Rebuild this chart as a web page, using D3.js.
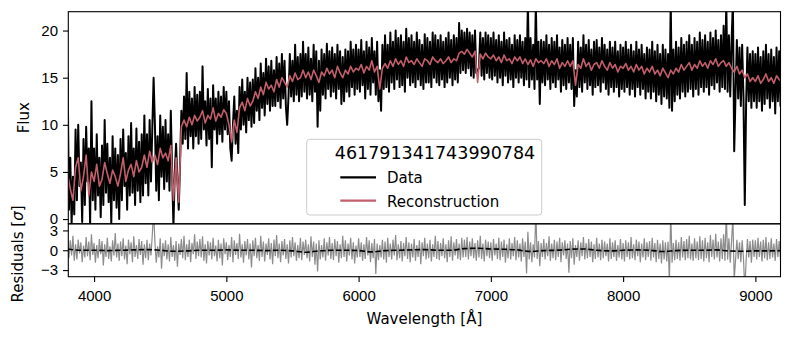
<!DOCTYPE html>
<html>
<head>
<meta charset="utf-8">
<script src="https://cdn.jsdelivr.net/npm/d3@7"></script>
<style>
  body { margin: 0; background: #fff; }
  svg { font-family: "DejaVu Sans", sans-serif; }
  .axis text { font-size: 15px; fill: #000; }
  .axis path, .axis line { stroke: #000; stroke-width: 1.1; }
</style>
</head>
<body>
<svg id="chart" width="792" height="340"></svg>
<script>
// observed flux, sampled every 10 A from 3800 A
const fluxStart = 3800;
const fluxStep = 10;
const flux = [
  15.5, 1.0, 6.5, -0.5, 4.5, 0.5, 9.5, 2.0, 10.0, 3.5, 6.0, -0.3, 8.5, 1.5, 9.8, 4.0, 7.5, -0.6, 12.5, 2.0,
  7.5, 1.0, 9.0, 2.5, 6.5, 0.2, 7.8, 1.5, 10.5, 2.8, 8.0, 1.8, 6.5, -0.5, 8.8, 2.0, 7.5, 1.2, 6.8, 0.0,
  8.5, 2.0, 9.5, 3.5, 7.0, 1.0, 8.8, 2.5, 10.2, 2.8, 7.5, 1.5, 9.6, 3.0, 8.2, 1.8, 9.0, 2.5, 11.0, 3.8,
  9.0, 2.5, 10.5, 4.0, 9.5, 15.0, 10.0, 3.0, 8.8, 2.0, 11.0, 4.5, 9.8, 3.2, 10.5, 4.0, 9.0, 3.0, 11.5, 5.0,
  -0.8, 5.0, 8.0, 4.0, 1.0, 6.0, 11.5, 8.0, 13.0, 8.5, 15.5, 7.5, 13.5, 8.8, 12.8, 7.5, 14.0, 8.8, 13.2, 8.0,
  13.5, 8.5, 16.2, 9.5, 12.5, 7.8, 13.8, 8.5, 12.8, 5.5, 14.2, 9.5, 12.8, 8.0, 13.5, 9.0, 13.0, 8.2, 14.0, 9.5,
  13.5, 9.0, 12.5, 7.5, 6.2, 10.0, 13.0, 8.0, 11.5, 7.0, 14.0, 9.5, 14.8, 10.0, 13.5, 9.2, 15.0, 10.5, 14.5, 9.8,
  14.8, 10.2, 16.0, 11.5, 15.0, 10.5, 16.5, 11.8, 15.5, 11.0, 17.0, 12.2, 16.2, 11.5, 16.8, 12.0, 15.8, 12.0, 17.2, 12.5,
  16.5, 11.8, 17.5, 12.8, 16.8, 12.0, 10.0, 13.0, 17.5, 13.0, 16.8, 12.5, 18.5, 13.2, 17.2, 12.5, 17.5, 13.0, 18.8, 13.5,
  17.5, 12.8, 18.2, 13.2, 17.0, 12.5, 18.5, 13.5, 17.8, 9.8, 16.8, 11.5, 18.0, 13.2, 17.5, 12.8, 18.6, 13.8, 17.8, 13.0,
  18.2, 13.5, 17.5, 12.8, 18.5, 13.8, 17.8, 12.2, 17.2, 12.5, 18.0, 13.5, 17.8, 13.0, 18.8, 14.0, 18.0, 13.2, 18.5, 13.8,
  18.0, 13.5, 19.0, 14.2, 17.8, 12.8, 18.8, 13.8, 18.2, 13.2, 19.2, 14.5, 17.8, 13.2, 18.8, 12.5, 15.8, 11.5, 18.5, 13.8,
  19.5, 14.0, 18.5, 13.5, 19.8, 14.5, 18.8, 13.8, 20.0, 14.8, 19.2, 14.0, 19.5, 14.2, 18.8, 13.5, 20.2, 15.0, 19.2, 14.2,
  19.5, 14.5, 18.8, 14.0, 19.8, 14.8, 19.0, 14.2, 18.5, 13.8, 19.6, 14.5, 19.2, 14.5, 18.8, 14.0, 19.8, 15.0, 19.5, 14.5,
  19.0, 14.2, 19.5, 14.8, 18.8, 14.0, 19.2, 14.5, 19.8, 15.0, 19.0, 14.2, 19.5, 14.8, 19.2, 14.5, 20.8, 15.5, 20.0, 15.8,
  19.8, 15.5, 20.2, 16.0, 19.8, 15.2, 19.5, 15.0, 20.0, 15.5, 15.8, 16.0, 19.8, 15.2, 19.2, 14.8, 19.8, 15.5, 19.5, 15.0,
  19.2, 14.8, 19.8, 15.2, 19.0, 14.5, 19.5, 15.0, 18.8, 14.2, 19.8, 15.2, 19.0, 14.5, 19.2, 14.8, 18.5, 14.0, 19.5, 15.0,
  19.0, 14.5, 19.5, 15.0, 18.8, 14.2, 19.2, 14.8, 23.0, 14.0, 19.2, 14.8, 18.5, 13.8, 23.0, 14.8, 18.8, 12.2, 19.0, 14.5,
  18.8, 14.2, 19.5, 14.8, 18.5, 13.8, 19.2, 14.5, 18.8, 14.0, 19.5, 14.8, 18.2, 13.5, 19.0, 14.2, 18.5, 13.8, 19.2, 14.5,
  18.5, 13.8, 19.2, 12.0, 15.8, 13.0, 18.8, 14.0, 18.2, 13.5, 19.5, 14.5, 18.5, 13.8, 19.0, 14.2, 18.0, 13.2, 18.8, 14.0,
  19.0, 14.2, 18.2, 13.5, 19.2, 14.5, 18.5, 13.8, 18.0, 13.2, 18.8, 14.0, 18.2, 13.5, 18.8, 14.0, 17.8, 13.0, 18.5, 13.8,
  18.2, 13.5, 18.8, 14.0, 18.0, 13.2, 18.5, 13.8, 17.8, 13.0, 18.8, 14.0, 18.0, 13.2, 18.5, 13.8, 17.5, 12.8, 18.2, 13.5,
  18.0, 12.8, 18.8, 13.5, 17.8, 12.5, 18.5, 13.2, 17.5, 12.2, 18.5, 13.0, 18.0, 12.8, 17.5, 11.8, 23.0, 11.5, 18.0, 12.5,
  18.8, 13.2, 18.2, 12.8, 19.2, 13.5, 18.5, 13.0, 18.8, 13.5, 19.5, 13.8, 18.5, 13.0, 19.2, 13.8, 18.8, 13.2, 19.8, 14.0,
  19.0, 13.5, 19.5, 14.0, 18.8, 13.2, 19.8, 14.2, 19.2, 13.8, 20.0, 14.5, 19.0, 13.5, 19.5, 14.0, 20.5, 13.8, 23.0, 13.5,
  19.5, 13.0, 18.8, 23.0, 7.2, 13.2, 19.0, 12.8, 18.2, 12.0, 18.5, 13.0, 1.5, 12.2, 18.2, 12.5, 17.5, 11.8, 17.8, 12.5,
  17.5, 11.8, 18.2, 12.5, 17.2, 11.5, 17.8, 12.2, 18.5, 12.8, 17.5, 11.8, 18.0, 12.5, 17.2, 11.2, 18.2, 12.5, 17.8, 12.0,
  17.0
];

// reconstruction, sampled every 20 A from 3800 A
const reconStart = 3800;
const reconStep = 20;
const recon = [
  4.8, 3.2, 2.0, 5.5, 6.5, 3.0, 4.5, 6.8, 2.5, 5.0,
  4.0, 5.8, 3.5, 4.2, 6.0, 4.8, 3.8, 5.2, 4.5, 3.5,
  4.8, 6.5, 4.0, 5.2, 5.8, 4.5, 6.2, 5.0, 5.5, 6.8,
  5.5, 7.2, 6.0, 6.8, 5.8, 7.5, 6.5, 7.0, 6.2, 7.8,
  2.0, 6.5, 1.8, 9.8, 10.5, 9.8, 10.8, 10.0, 11.0, 10.4,
  10.8, 11.5, 10.2, 11.0, 10.6, 11.8, 10.4, 11.2, 10.8, 11.6,
  11.2, 10.0, 8.2, 10.5, 9.2, 11.8, 12.4, 11.5, 12.8, 12.0,
  12.5, 13.5, 12.8, 14.0, 13.2, 14.5, 13.8, 14.2, 13.5, 14.8,
  14.0, 15.0, 14.5, 14.0, 15.2, 14.6, 15.5, 14.8, 15.0, 15.8,
  15.0, 15.6, 14.8, 15.8, 15.2, 14.5, 15.6, 15.2, 16.0, 15.4,
  15.8, 15.0, 16.2, 15.5, 15.0, 15.8, 15.4, 16.2, 15.6, 16.0,
  15.8, 16.4, 15.5, 16.2, 15.8, 16.8, 15.6, 16.2, 13.8, 16.0,
  16.5, 16.0, 16.8, 16.2, 17.0, 16.4, 16.8, 16.2, 17.2, 16.6,
  16.8, 16.4, 17.0, 16.6, 16.2, 17.0, 16.8, 16.4, 17.2, 16.8,
  16.6, 17.0, 16.5, 16.8, 17.2, 16.6, 17.0, 16.8, 17.6, 17.8,
  17.5, 18.0, 17.6, 17.2, 17.8, 14.5, 17.5, 17.0, 17.6, 17.2,
  17.0, 17.4, 16.8, 17.2, 16.6, 17.4, 16.8, 17.0, 16.5, 17.2,
  16.8, 17.2, 16.5, 17.0, 16.4, 16.9, 16.2, 17.0, 16.6, 16.8,
  16.5, 17.0, 16.2, 16.8, 16.4, 17.0, 16.0, 16.6, 16.2, 16.8,
  16.2, 16.8, 14.2, 16.4, 16.0, 17.0, 16.2, 16.6, 15.8, 16.4,
  16.6, 16.0, 16.8, 16.2, 15.8, 16.6, 16.0, 16.4, 15.6, 16.2,
  16.0, 16.5, 15.8, 16.2, 15.6, 16.4, 15.8, 16.2, 15.4, 16.0,
  15.6, 16.2, 15.4, 15.8, 15.2, 16.0, 15.5, 15.0, 15.8, 15.4,
  16.0, 15.6, 16.4, 15.8, 16.2, 16.6, 15.8, 16.4, 16.0, 16.8,
  16.2, 16.6, 16.0, 16.8, 16.4, 17.0, 16.2, 16.6, 16.8, 16.2,
  16.6, 16.0, 15.6, 16.2, 15.4, 15.8, 15.0, 15.4, 14.6, 15.0,
  14.6, 15.2, 14.4, 14.8, 15.4, 14.6, 15.0, 14.4, 15.2, 14.8,
  14.6
];

// residuals in sigma, same grid as flux
const resid = [
  1.8, -1.2, 1.5, -0.8, 2.2, -1.6, 0.9, -1.4, 1.6, -0.5, 1.2, -1.8, 0.7, -1.1, 2.0, -0.9, 1.3, -1.5, 2.4, -0.7,
  1.1, -1.9, 0.8, -1.2, 1.7, -0.6, 1.4, -2.3, 0.9, -1.0, 1.9, -1.3, 0.6, -1.7, 1.5, -0.8, 2.6, -1.1, 1.0, -1.6,
  1.3, -0.9, 1.8, -1.4, 0.7, -2.1, 1.6, -0.6, 1.2, -1.8, 2.1, -1.0, 0.8, -1.3, 1.7, -0.7, 1.4, -2.2, 0.9, -1.2,
  1.6, -1.5, 1.0, -0.8, 2.3, 6.0, 1.2, -1.9, 0.6, -1.1, 1.8, -2.8, 1.1, -0.9, 1.5, -1.4, 0.9, -1.7, 2.0, -1.0,
  0.8, -1.6, 1.4, -2.5, 1.0, -0.7, 1.7, -1.2, 2.2, -1.5, 0.9, -1.0, 1.6, -1.8, 1.1, -0.6, 2.4, -1.3, 1.3, -0.9,
  1.7, -1.1, 2.1, -1.6, 0.9, -2.0, 1.4, -0.8, 1.2, -1.4, 1.9, -0.9, 0.7, -1.7, 1.6, -1.2, 1.0, -2.3, 1.8, -0.6,
  1.2, -1.5, 0.8, -1.0, 2.0, -1.8, 1.5, -0.7, 1.1, -1.3, 2.5, -1.1, 0.9, -1.9, 1.4, -0.8, 1.7, -1.4, 1.0, -2.6,
  1.5, -0.9, 1.9, -1.2, 0.8, -1.6, 2.2, -1.0, 1.3, -1.7, 1.0, -0.7, 1.8, -1.4, 1.1, -2.1, 1.6, -0.9, 2.3, -1.2,
  1.0, -1.8, 1.4, -0.8, 1.7, -1.3, 0.9, -2.0, 1.5, -1.1, 2.0, -0.9, 1.2, -1.6, 0.8, -1.2, 1.9, -1.5, 1.3, -0.7,
  1.6, -1.2, 0.9, -1.7, 2.1, -1.0, 1.3, -2.2, 1.0, -3.2, 1.5, -1.4, 0.8, -1.1, 1.8, -1.6, 1.2, -0.8, 2.0, -1.3,
  1.1, -1.5, 1.7, -0.9, 1.4, -1.9, 0.9, -1.2, 2.2, -1.0, 1.5, -1.7, 1.0, -0.8, 1.9, -1.4, 1.2, -2.0, 0.7, -1.1,
  1.8, -1.0, 1.2, -1.6, 0.9, -1.3, 2.0, -0.8, 1.5, -1.8, 1.1, -1.2, 1.7, -3.6, 1.0, -1.5, 0.8, -1.1, 1.6, -1.4,
  1.3, -1.9, 1.9, -1.0, 1.0, -1.4, 1.6, -0.8, 2.3, -1.5, 0.9, -1.2, 1.4, -1.7, 1.1, -0.9, 2.0, -1.3, 1.2, -1.8,
  1.0, -1.1, 1.7, -1.6, 0.8, -1.0, 1.5, -2.1, 1.2, -0.9, 1.9, -1.4, 1.0, -1.2, 1.6, -1.7, 0.9, -1.0, 2.2, -1.3,
  1.4, -1.5, 1.1, -0.9, 1.8, -1.2, 0.9, -1.8, 1.5, -1.0, 2.1, -1.6, 1.2, -0.8, 1.7, -1.3, 1.0, -1.5, 1.9, -1.1,
  1.6, -1.0, 2.0, -1.4, 1.3, -0.9, 1.8, -1.2, 1.1, -1.6, 1.5, -1.1, 2.2, -1.3, 1.0, -1.7, 1.6, -0.9, 1.3, -1.2,
  1.2, -1.6, 1.7, -0.8, 1.0, -1.3, 1.9, -1.5, 1.3, -1.0, 1.6, -1.9, 0.9, -1.2, 1.8, -1.4, 1.1, -0.9, 2.0, -1.5,
  1.5, -1.1, 1.0, -1.7, 1.8, -1.0, 1.3, -3.5, 2.8, -1.4, 1.2, -1.8, 0.9, -1.1, 6.0, -1.3, 1.4, -2.4, 1.1, -1.0,
  1.7, -1.4, 1.1, -0.9, 2.1, -1.6, 1.0, -1.2, 1.6, -1.5, 1.3, -1.0, 1.9, -1.8, 1.2, -0.8, 1.5, -1.3, 1.0, -3.4,
  1.4, -1.2, 1.8, -2.2, 0.8, -1.0, 1.5, -1.6, 1.2, -0.9, 2.0, -1.4, 1.1, -1.2, 1.7, -1.0, 1.3, -1.8, 0.9, -1.3,
  1.9, -1.1, 1.0, -1.5, 1.6, -1.2, 1.3, -0.9, 1.0, -1.7, 1.8, -1.3, 1.2, -1.0, 1.5, -1.6, 0.8, -1.1, 1.7, -1.4,
  1.1, -1.7, 1.5, -1.0, 1.2, -1.4, 2.0, -1.2, 0.9, -1.5, 1.6, -0.9, 1.3, -1.8, 1.0, -1.1, 1.8, -1.5, 1.2, -1.0,
  1.4, -1.6, 1.9, -1.1, 1.1, -1.8, 1.6, -1.3, 1.0, -2.0, 1.5, -1.4, 1.2, -1.7, 1.3, -5.0, 6.0, -1.9, 1.1, -1.5,
  1.6, -1.3, 1.2, -1.6, 2.0, -1.1, 1.4, -1.5, 1.7, -1.2, 2.2, -1.4, 1.0, -1.6, 1.8, -1.2, 1.3, -1.5, 2.1, -1.3,
  1.5, -1.7, 1.9, -1.2, 1.2, -1.8, 2.3, -1.0, 1.6, -1.4, 2.5, -1.1, 1.3, -1.7, 1.8, -1.3, 2.4, -1.6, 6.0, -1.4,
  1.8, -1.9, 1.4, 5.0, -4.5, -1.5, 1.6, -1.3, 1.2, -1.8, 1.5, -1.2, -6.0, -1.6, 1.7, -1.1, 1.4, -1.9, 1.6, -1.0,
  1.5, -1.4, 1.9, -1.0, 1.3, -1.7, 1.6, -1.2, 2.0, -1.5, 1.2, -1.3, 1.8, -1.1, 1.0, -1.6, 1.7, -1.0, 1.4, -1.3,
  1.2
];

// smoothed residual, every 100 A from 3800 A
const smoothStart = 3800;
const smoothStep = 100;
const residSmooth = [
  0.2, 0.0, 0.0, -0.05, 0.0, 0.05, 0.1, 0.0, -0.15, -0.1,
  0.0, 0.0, 0.05, 0.0, 0.0, -0.05, 0.0, -0.1, -0.3, -0.1,
  0.0, 0.0, -0.05, -0.25, -0.05, 0.0, 0.05, 0.1, 0.0, 0.0,
  0.25, 0.3, 0.2, 0.15, 0.05, -0.2, -0.05, 0.0, 0.15, 0.2,
  0.0, -0.1, 0.0, 0.05, 0.0, -0.2, -0.05, 0.0, 0.0, 0.05,
  -0.1, -0.15, -0.1, -0.1, -0.05
];

const xTicks = [4000, 5000, 6000, 7000, 8000, 9000];
const fluxTicks = [0, 5, 10, 15, 20];
const residTicks = [-3, 0, 3];
const legendTitle = '461791341743990784';
const seriesNames = ['Data', 'Reconstruction'];
const seriesColors = ['#000000', '#c25f6a'];

const svg = d3.select('#chart');
const left = 68.3, right = 780.5;
const topY0 = 11.7, topY1 = 223.8, botY1 = 276.7;

const x = d3.scaleLinear().domain([3805, 9190]).range([left, right]);
const yFlux = d3.scaleLinear().domain([-0.5, 22]).range([topY1, topY0]);
const yRes = d3.scaleLinear().domain([-4, 4]).range([botY1, topY1]);

const grid = (start, step, arr) => arr.map((v, i) => [start + i * step, v]);

const defs = svg.append('defs');
defs.append('clipPath').attr('id', 'clipTop')
  .append('rect')
  .attr('x', left).attr('y', topY0)
  .attr('width', right - left).attr('height', topY1 - topY0);
defs.append('clipPath').attr('id', 'clipBot')
  .append('rect')
  .attr('x', left).attr('y', topY1)
  .attr('width', right - left).attr('height', botY1 - topY1);

// top panel
const lineFlux = d3.line().x(d => x(d[0])).y(d => yFlux(d[1]));
const gTop = svg.append('g').attr('clip-path', 'url(#clipTop)');
gTop.append('path')
  .datum(grid(fluxStart, fluxStep, flux))
  .attr('d', lineFlux)
  .attr('fill', 'none')
  .attr('stroke', seriesColors[0])
  .attr('stroke-width', 2)
  .attr('stroke-linejoin', 'round');
gTop.append('path')
  .datum(grid(reconStart, reconStep, recon))
  .attr('d', lineFlux)
  .attr('fill', 'none')
  .attr('stroke', seriesColors[1])
  .attr('stroke-width', 1.6)
  .attr('stroke-linejoin', 'round');

// bottom panel
const lineRes = d3.line().x(d => x(d[0])).y(d => yRes(d[1]));
const gBot = svg.append('g').attr('clip-path', 'url(#clipBot)');
gBot.append('path')
  .datum(grid(fluxStart, fluxStep, resid))
  .attr('d', lineRes)
  .attr('fill', 'none')
  .attr('stroke', '#7f7f7f')
  .attr('stroke-opacity', 0.9)
  .attr('stroke-width', 1.2);
gBot.append('path')
  .datum(grid(smoothStart, smoothStep, residSmooth))
  .attr('d', lineRes.curve(d3.curveMonotoneX))
  .attr('fill', 'none')
  .attr('stroke', '#000')
  .attr('stroke-width', 1.6)
  .attr('stroke-dasharray', '5.5,2.4');

// axes
svg.append('g')
  .attr('class', 'axis')
  .attr('transform', `translate(${left},0)`)
  .call(d3.axisLeft(yFlux).tickValues(fluxTicks).tickSize(5.3).tickPadding(5).tickSizeOuter(0))
  .call(g => g.select('.domain').remove());

svg.append('g')
  .attr('class', 'axis')
  .attr('transform', `translate(${left},0)`)
  .call(d3.axisLeft(yRes).tickValues(residTicks).tickSize(5.3).tickPadding(5).tickSizeOuter(0))
  .call(g => g.select('.domain').remove());

svg.append('g')
  .attr('class', 'axis')
  .attr('transform', `translate(0,${botY1})`)
  .call(d3.axisBottom(x).tickValues(xTicks).tickFormat(d3.format('d')).tickSize(5.3).tickPadding(8.5).tickSizeOuter(0))
  .call(g => g.select('.domain').remove());

// frames
[[topY0, topY1], [topY1, botY1]].forEach(([a, b]) => {
  svg.append('rect')
    .attr('x', left).attr('y', a)
    .attr('width', right - left).attr('height', b - a)
    .attr('fill', 'none')
    .attr('stroke', '#000')
    .attr('stroke-width', 1.1);
});

// axis labels
svg.append('text')
  .attr('transform', `translate(28.5,${(topY0 + topY1) / 2})rotate(-90)`)
  .attr('text-anchor', 'middle')
  .attr('font-size', 15)
  .text('Flux');

const resLabel = svg.append('text')
  .attr('transform', `translate(22.5,254)rotate(-90)`)
  .attr('text-anchor', 'middle')
  .attr('font-size', 15);
resLabel.append('tspan').text('Residuals [');
resLabel.append('tspan').attr('font-style', 'italic').text('σ');
resLabel.append('tspan').text(']');

svg.append('text')
  .attr('x', (left + right) / 2)
  .attr('y', 323.5)
  .attr('text-anchor', 'middle')
  .attr('font-size', 15)
  .text('Wavelength [Å]');

// legend
const lg = svg.append('g');
lg.append('rect')
  .attr('x', 306.7).attr('y', 139.3)
  .attr('width', 235).attr('height', 75.7)
  .attr('rx', 3)
  .attr('fill', '#fff')
  .attr('fill-opacity', 0.8)
  .attr('stroke', '#cccccc')
  .attr('stroke-width', 1);
lg.append('text')
  .attr('x', 435).attr('y', 159.3)
  .attr('text-anchor', 'middle')
  .attr('font-size', 17.5)
  .text(legendTitle);
seriesNames.forEach((name, i) => {
  const yy = 177.3 + i * 23.4;
  lg.append('line')
    .attr('x1', 340.3).attr('x2', 376)
    .attr('y1', yy).attr('y2', yy)
    .attr('stroke', seriesColors[i])
    .attr('stroke-width', 2.2);
  lg.append('text')
    .attr('x', 387).attr('y', yy + 6)
    .attr('font-size', 15)
    .text(name);
});
</script>
</body>
</html>
